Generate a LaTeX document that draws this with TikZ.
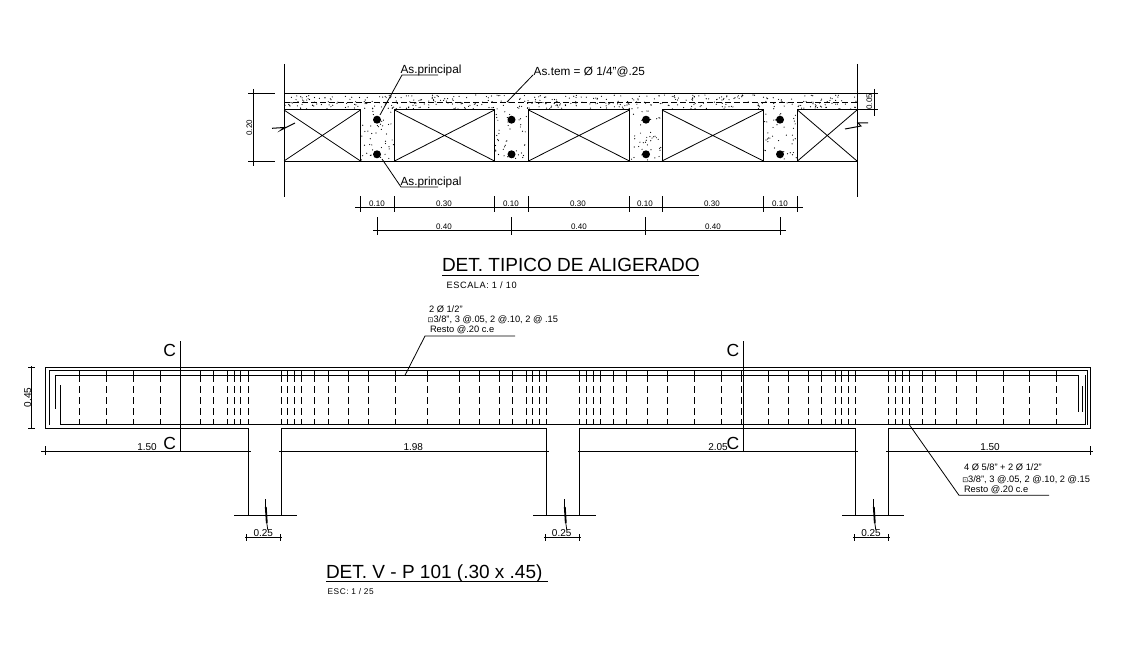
\documentclass[tikz,border=0pt]{standalone}
\usepackage{fontspec}
\setmainfont{Liberation Sans}
\newfontfamily\symbfont{DejaVu Sans}
\usetikzlibrary{positioning}
\usetikzlibrary{calc}

\tikzset{
  txt/.style = {inner sep=0, outer sep=0, anchor=base west},
  dimtxt/.style = {inner sep=0, outer sep=0, anchor=base, font=\fontsize{8}{9}\selectfont},
  dimbig/.style = {dimtxt, font=\fontsize{10}{11}\selectfont},
  title/.style = {txt, font=\fontsize{19}{20}\selectfont},
  sect/.style = {inner sep=0, outer sep=0, anchor=base, font=\fontsize{17.5}{18}\selectfont},
  note/.style = {txt, font=\fontsize{9.3}{10}\selectfont},
  rebar/.style = {fill=black, draw=none},
  grain/.style = {fill=black, draw=none},
  stirrup/.style = {dash pattern=on 7pt off 4pt},
  thin line/.style = {line width=0.8pt}
}

\begin{document}
\begin{tikzpicture}[x=1pt, y=-1pt, line width=1pt]
  \useasboundingbox (0,0) rectangle (1124,658);

  % aligerado: walls and slab
  \draw (284,64) -- (284,197);
  \draw (857,64) -- (857,197);
  \draw (284,94) -- (857,94);
  \draw (284,161) -- (857,161);
  \draw[dash pattern=on 6pt off 3pt, thin line] (284,102) -- (857,102);
  \foreach \xa/\xb in {284/360.5, 394.5/494.5, 528.5/629.5, 662/763.5, 797.5/857} {
    \draw (\xa,110) rectangle (\xb,161);
    \draw[thin line] (\xa,110) -- (\xb,161) (\xa,161) -- (\xb,110);
  }
  \foreach \xa in {377, 511.5, 646, 780} {
    \fill[rebar] (\xa,119.7) circle (4);
    \fill[rebar] (\xa,154.3) circle (4);
  }
  % stipple
  \pgfmathsetseed{41}
  \foreach \i in {1,...,420} {
    \pgfmathsetmacro{\px}{285+rnd*571}
    \pgfmathsetmacro{\py}{95+rnd*14}
    \fill[grain] (\px,\py) circle (0.6);
  }
  \foreach \xa/\xb in {361/394, 495/528, 630/662, 764/797} {
    \foreach \i in {1,...,42} {
      \pgfmathsetmacro{\px}{\xa+rnd*(\xb-\xa)}
      \pgfmathsetmacro{\py}{111+rnd*49}
      \fill[grain] (\px,\py) circle (0.6);
    }
  }
  % break marks
  \draw (272,128.3) -- (284,127.5) -- (281,130) -- (295,123);
  \draw (868,123) -- (858,123) -- (861,126) -- (845,129);

  % side dimensions
  \draw (248,94) -- (275,94) (248,161) -- (275,161) (253,89) -- (253,166);
  \node[dimtxt, rotate=90] (hslab) at (252,127.7) {0.20};
  \draw (858,94) -- (878,94) (858,110) -- (878,110) (874,89) -- (874,116);
  \node[dimtxt, rotate=90] (hcapa) at (872,101.7) {0.05};

  % dimension rows
  \draw (355,207.3) -- (803,207.3);
  \foreach \xa in {360.5, 394.5, 494.5, 528.5, 629.5, 662, 763.5, 797.5}
    \draw (\xa,196) -- (\xa,212);
  \foreach \xa/\lab in {377/0.10, 444/0.30, 511/0.10, 578/0.30, 645/0.10, 712/0.30, 780/0.10}
    \node[dimtxt] at (\xa,206) {\lab};
  \draw (373,230.3) -- (786,230.3);
  \foreach \xa in {377.5, 511.5, 645.5, 780.5}
    \draw (\xa,217) -- (\xa,235);
  \foreach \xa in {444, 579, 713}
    \node[dimtxt] at (\xa,229) {0.40};

  % aligerado labels
  \node[txt, font=\fontsize{11.8}{12}\selectfont] (astop) at (400.5,73.3) {As.principal};
  \coordinate (astopbar) at (380,115);
  \draw[thin line] (astopbar) -- (402,75) -- (438,75);
  \node[txt, font=\fontsize{11.8}{12}\selectfont] (asbot) at (400.5,185.7) {As.principal};
  \coordinate (asbotbar) at (382,159);
  \draw[thin line] (asbotbar) -- (401,187) -- (438,187);
  \node[txt, font=\fontsize{11.8}{12}\selectfont] (astem) at (533.7,75.7) {As.tem = Ø 1/4"@.25};
  \coordinate (astembar) at (507,102);
  \draw[thin line] (astembar) -- (533,75);

  \node[title] (titalig) at (442,271.7) {DET. TIPICO DE ALIGERADO};
  \draw (442,275) -- (699,275);
  \node[txt, font=\fontsize{9.2}{10}\selectfont\addfontfeature{LetterSpace=6}] (escalig) at (446.7,288.3) {ESCALA: 1 / 10};

  % viga: outline
  \draw (45.5,428.5) -- (45.5,367.3) -- (1090.5,367.3) -- (1090.5,428.5);
  \draw (45.5,428.5) -- (248,428.5) -- (248,515);
  \draw (281.3,515) -- (281.3,428.5) -- (546.7,428.5) -- (546.7,515);
  \draw (579.3,515) -- (579.3,428.5) -- (855.7,428.5) -- (855.7,515);
  \draw (888.5,515) -- (888.5,428.5) -- (1090.5,428.5);
  % viga: steel
  \draw (49.7,425) -- (49.7,370.7) -- (1087.7,370.7) -- (1087.7,425);
  \draw (55.7,408.7) -- (55.7,375.3) -- (1078,375.3) -- (1078,411.7);
  \draw (60.7,385) -- (60.7,424.7) -- (1085,424.7) -- (1085,375.3);
  \draw[thin line] (1082,386) -- (1082,411.7);
  \foreach \xa in {79.3,106.3,133.3,160.3,200.3,213.3,227.3,234.3,240.3,248,
      281.3,287.3,294.3,301.3,314.7,328.3,348.3,368.3,395.3,
      427.3,459.3,479.3,499.3,512.3,526.3,532.3,539.3,546.7,
      579.3,586.3,593.3,600.3,613.3,626.3,647.3,667.3,694.3,721.3,741.7,
      768.3,788.3,808.3,821.3,835.3,841.3,848.3,855.7,
      888.5,895.3,902.3,909.3,922.3,935.3,956.3,976.3,1003.3,1029.3,1056.3} {
    \draw (\xa,370.7) -- (\xa,375.3);
    \draw[stirrup] (\xa,375.3) -- (\xa,424.7);
  }

  % cuts
  \foreach \xa/\xc in {180.3/169.7, 743.3/733} {
    \draw (\xa,341) -- (\xa,451.5);
    \node[sect] at (\xc,356.7) {C};
    \node[sect] at (\xc,449.3) {C};
  }

  % spans
  \draw (41,451.4) -- (251,451.4) (279,451.4) -- (549,451.4) (578,451.4) -- (858,451.4) (886,451.4) -- (1093,451.4);
  \draw (45,446) -- (45,455) (1090.7,446) -- (1090.7,455);
  \foreach \xa/\lab in {147/1.50, 413.3/1.98, 718/2.05, 990/1.50}
    \node[dimbig] at (\xa,450.7) {\lab};
  \draw (28,367.3) -- (35,367.3) (28,428.5) -- (35,428.5) (31.7,366) -- (31.7,429);
  \node[dimbig, rotate=90] (hviga) at (31,397.5) {0.45};

  % columns: base and width
  \foreach \xc/\xa/\xb/\xd/\xe/\lab in {265.3/234/297/245/282/263.3, 564.3/533/595.7/544/580.7/561.7, 873.3/842/904/853/890/871} {
    \draw (\xa,515.3) -- (\xb,515.3);
    \draw[thin line] (\xc,499) -- (\xc,507);
    \draw[line width=1.8pt] (\xc+0.5,507) -- (\xc+1.5,523);
    \draw[thin line] (\xc+1.5,523) -- (\xc+2.5,530);
    \draw (\xd,537.7) -- (\xe,537.7) (\xd+1.5,534) -- (\xd+1.5,541) (\xe-1.5,534) -- (\xe-1.5,541);
    \node[dimbig] at (\lab,536.7) {0.25};
  }

  % viga notes
  \node[note] (nota) at (429,312) {2 Ø 1/2"};
  \node[note] (notb) at (427.7,322.3) {{\symbfont\fontsize{7}{8}\selectfont ⊡}3/8", 3 @.05, 2 @.10, 2 @ .15};
  \node[note] (notc) at (430,332.7) {Resto @.20 c.e};
  \coordinate (notbar) at (405,375.3);
  \draw[thin line] (notbar) -- (425,336) -- (515,336);
  \node[note] (notd) at (964,470.7) {4 Ø 5/8" + 2 Ø 1/2"};
  \node[note] (note) at (962.3,482) {{\symbfont\fontsize{7}{8}\selectfont ⊡}3/8", 3 @.05, 2 @.10, 2 @.15};
  \node[note] (notf) at (964,492.7) {Resto @.20 c.e};
  \coordinate (notbarb) at (909.3,424.7);
  \draw[thin line] (notbarb) -- (959,495.3) -- (1049,495.3);

  \node[title] (titviga) at (326,578) {DET. V - P 101 (.30 x .45)};
  \draw (326,581.3) -- (548,581.3);
  \node[txt, font=\fontsize{8.3}{9}\selectfont\addfontfeature{LetterSpace=6}] (escviga) at (327.7,594) {ESC: 1 / 25};
\end{tikzpicture}
\end{document}
